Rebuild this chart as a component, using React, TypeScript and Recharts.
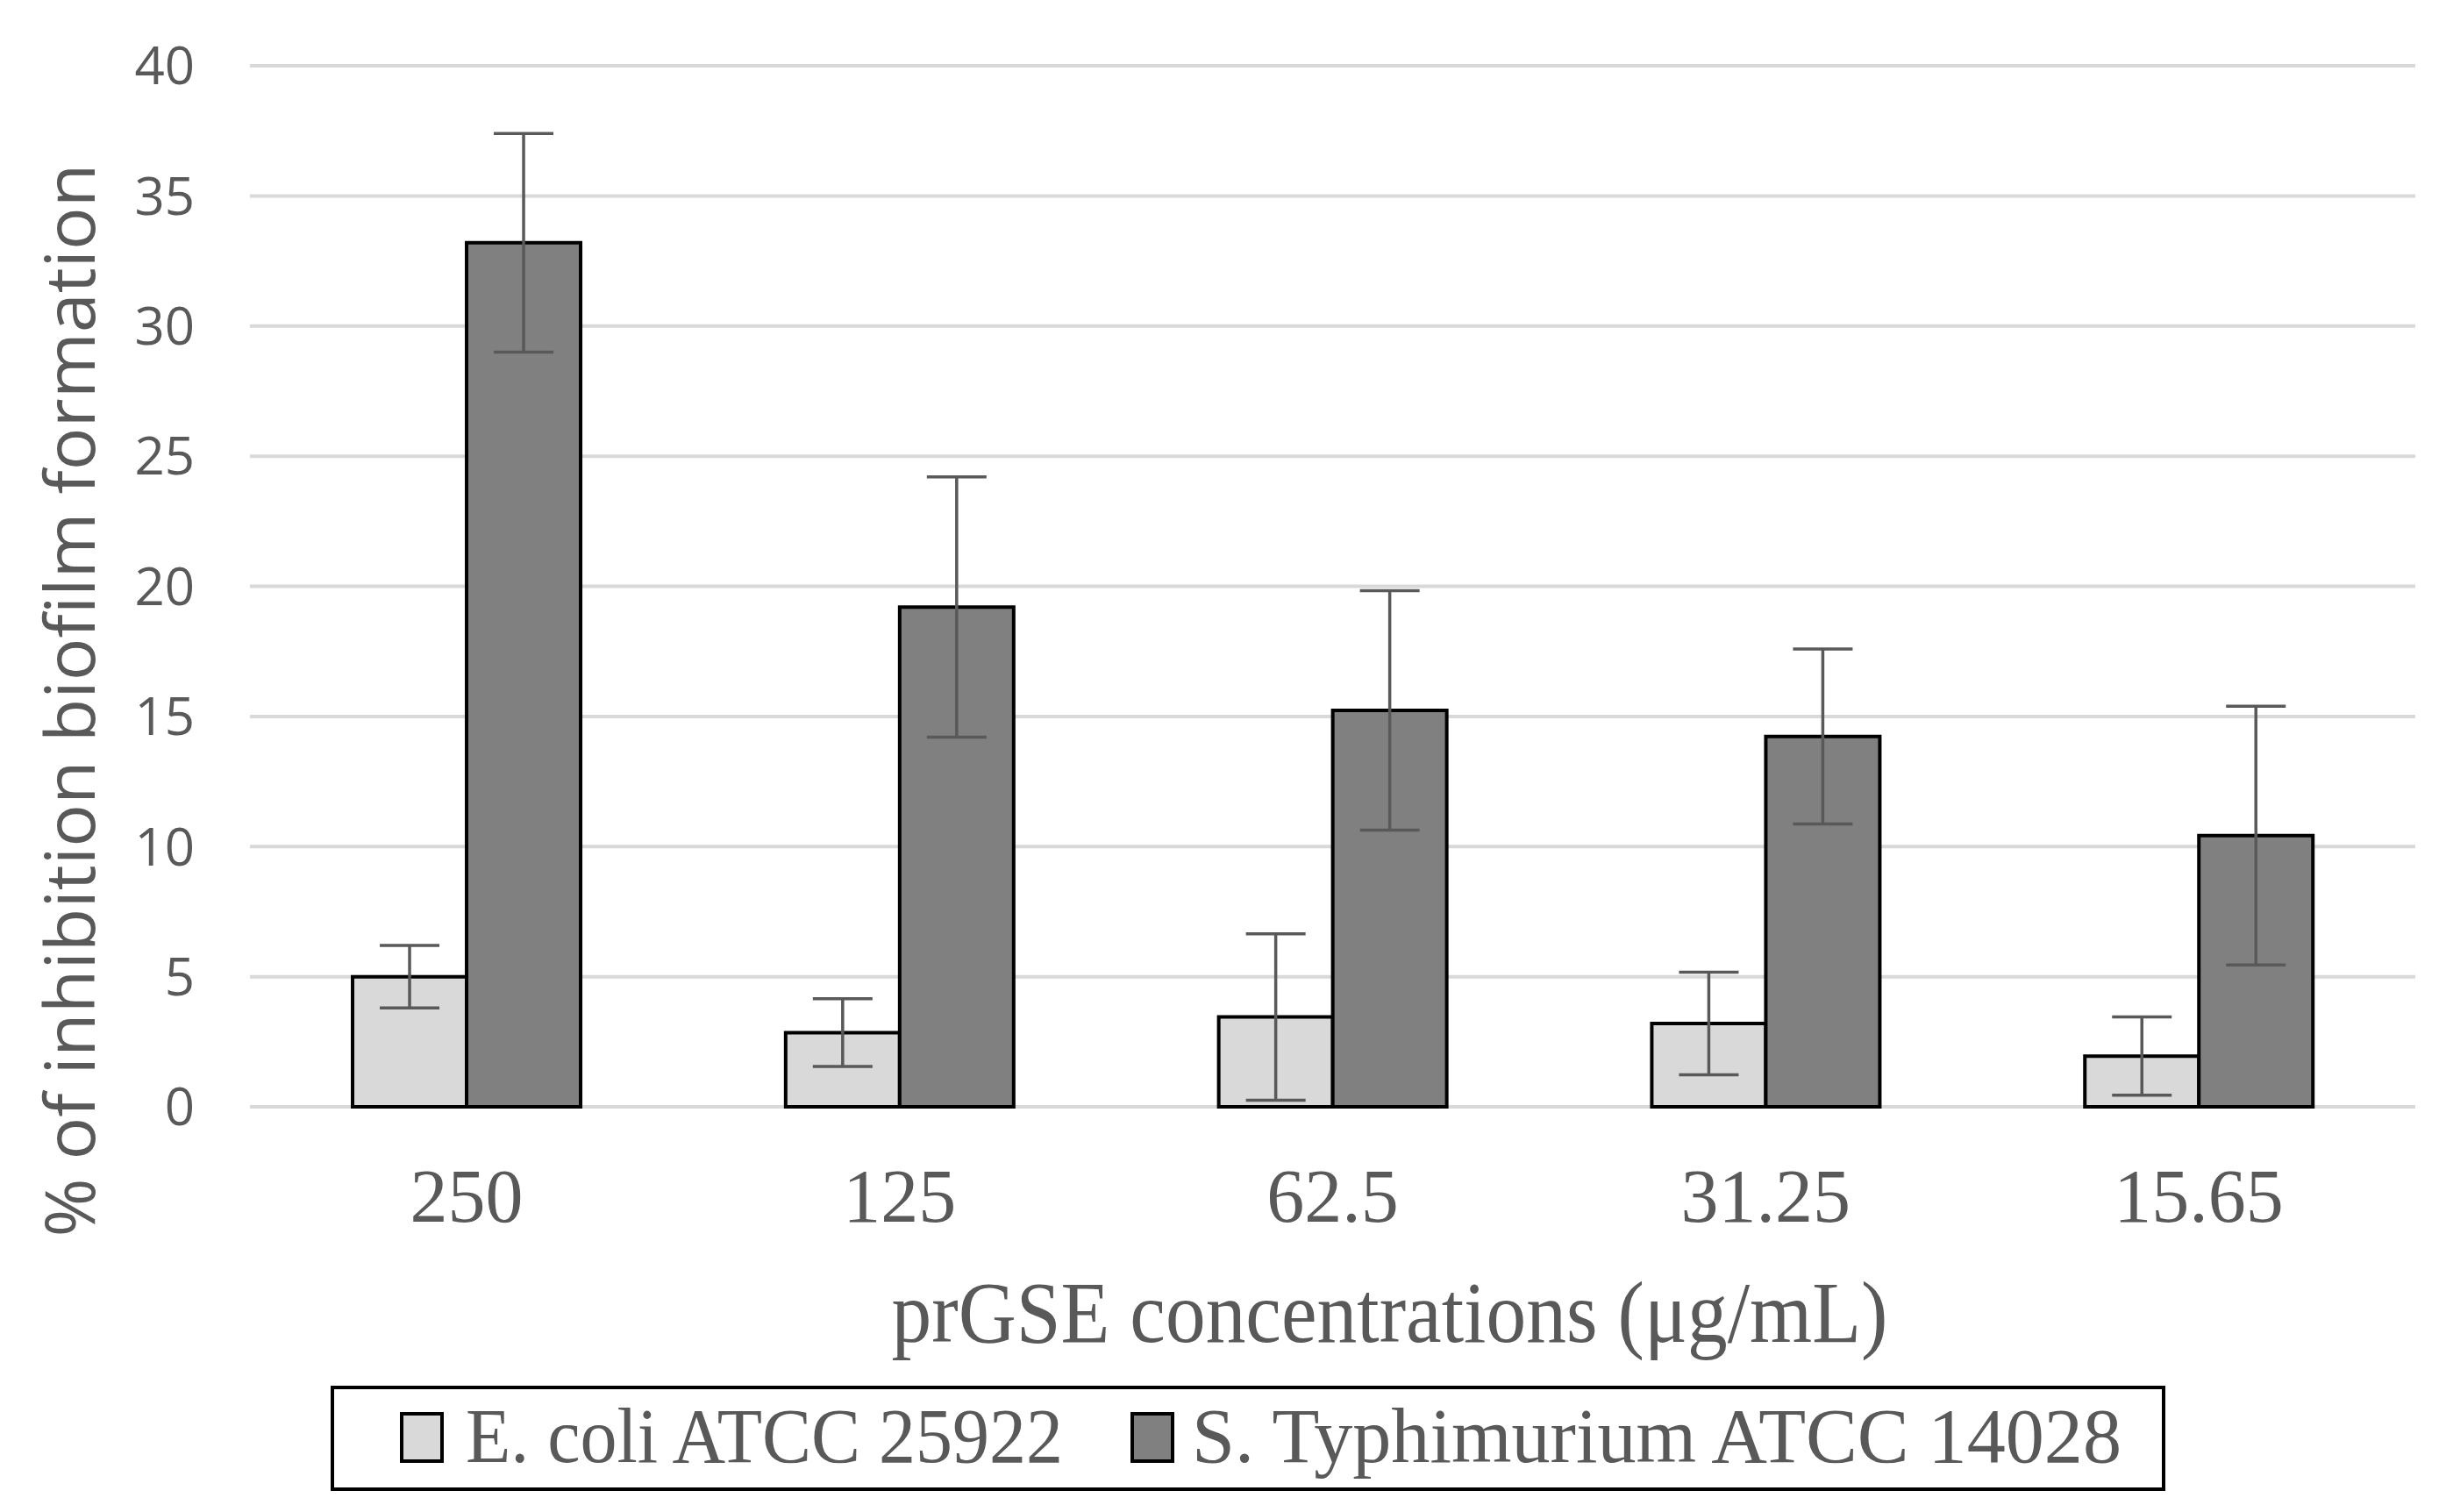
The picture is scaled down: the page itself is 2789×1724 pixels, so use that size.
import React from 'react';
import { BarChart, Bar, XAxis, YAxis, CartesianGrid, ErrorBar, Legend } from 'recharts';

const categories = ['250', '125', '62.5', '31.25', '15.65'];
const ecoliValues = [5.0, 2.85, 3.45, 3.2, 1.95];
const ecoliErrors = [1.2, 1.3, 3.2, 1.97, 1.5];
const typhValues = [33.2, 19.2, 15.23, 14.23, 10.42];
const typhErrors = [4.2, 5.0, 4.6, 3.36, 4.97];
const yTicks = [0, 5, 10, 15, 20, 25, 30, 35, 40];

const seriesNames = ['E. coli ATCC 25922', 'S. Typhimurium ATCC 14028'];
const seriesColors = ['#d9d9d9', '#808080'];

const data = categories.map((c, i) => ({
  name: c,
  ecoli: ecoliValues[i],
  ecoliErr: ecoliErrors[i],
  typh: typhValues[i],
  typhErr: typhErrors[i],
}));

const TEXT = '#595959';
const SERIF = '"Liberation Serif", "DejaVu Serif", serif';
const SANS = '"Open Sans", "Noto Sans", sans-serif';

function XTitle(props: any) {
  const vb = props.viewBox || { x: 0, y: 0, width: 0, height: 0 };
  const cx = vb.x + vb.width / 2 + 65;
  return (
    <text
      x={cx}
      y={vb.y + 268}
      textAnchor="middle"
      fontFamily={SERIF}
      fontSize={100}
      fill={TEXT}
      textLength={1136}
      lengthAdjust="spacingAndGlyphs"
    >
      prGSE concentrations (μg/mL)
    </text>
  );
}

function YTitle(props: any) {
  const vb = props.viewBox || { x: 0, y: 0, width: 0, height: 0 };
  const cx = vb.x + 108;
  const cy = vb.y + vb.height / 2 + 130;
  return (
    <text
      x={cx}
      y={cy}
      transform={`rotate(-90, ${cx}, ${cy})`}
      textAnchor="middle"
      fontFamily={SANS}
      fontSize={78}
      fill={TEXT}
      textLength={1224}
      lengthAdjust="spacingAndGlyphs"
    >
      % of inhibition biofilm formation
    </text>
  );
}

function LegendBox() {
  const markerX = [81, 914];
  const textX = [154, 982];
  const textLen = [681, 1060];
  return (
    <svg width={2092} height={120} style={{ display: 'block' }}>
      <rect x={2} y={2} width={2088} height={116} fill="#fff" stroke="#000" strokeWidth={4} />
      {seriesNames.map((n, i) => (
        <g key={n}>
          <rect x={markerX[i]} y={32} width={46} height={54} fill={seriesColors[i]} stroke="#000" strokeWidth={4} />
          <text
            x={textX[i]}
            y={87}
            fontFamily={SERIF}
            fontSize={88}
            fill={TEXT}
            textLength={textLen[i]}
            lengthAdjust="spacingAndGlyphs"
          >
            {n}
          </text>
        </g>
      ))}
    </svg>
  );
}

export default function App() {
  return (
    <div style={{ position: 'absolute', left: 0, top: 0, background: '#fff' }}>
      <BarChart
        width={2789}
        height={1724}
        data={data}
        margin={{ top: 75, right: 35, bottom: 142, left: 0 }}
        barCategoryGap="23.7%"
        barGap={0}
      >
        <CartesianGrid vertical={false} stroke="#d9d9d9" strokeWidth={4} />
        <XAxis
          dataKey="name"
          axisLine={false}
          tickLine={false}
          tickSize={0}
          tickMargin={70}
          height={200}
          tick={{ fontFamily: SERIF, fontSize: 86, fill: TEXT }}
          label={<XTitle />}
        />
        <YAxis
          domain={[0, 40]}
          ticks={yTicks}
          axisLine={false}
          tickLine={false}
          tickSize={0}
          tickMargin={63}
          width={285}
          tick={{ fontFamily: SANS, fontSize: 60, fill: TEXT }}
          label={<YTitle />}
        />
        <Legend
          verticalAlign="bottom"
          layout="horizontal"
          content={() => <LegendBox />}
          wrapperStyle={{ position: 'absolute', left: 377, top: 1580, bottom: 'auto', width: 2092, height: 120 }}
        />
        <Bar dataKey="ecoli" name={seriesNames[0]} fill={seriesColors[0]} stroke="#000" strokeWidth={4} isAnimationActive={false}>
          <ErrorBar dataKey="ecoliErr" width={34} stroke="#595959" strokeWidth={3.5} />
        </Bar>
        <Bar dataKey="typh" name={seriesNames[1]} fill={seriesColors[1]} stroke="#000" strokeWidth={4} isAnimationActive={false}>
          <ErrorBar dataKey="typhErr" width={34} stroke="#595959" strokeWidth={3.5} />
        </Bar>
      </BarChart>
    </div>
  );
}
